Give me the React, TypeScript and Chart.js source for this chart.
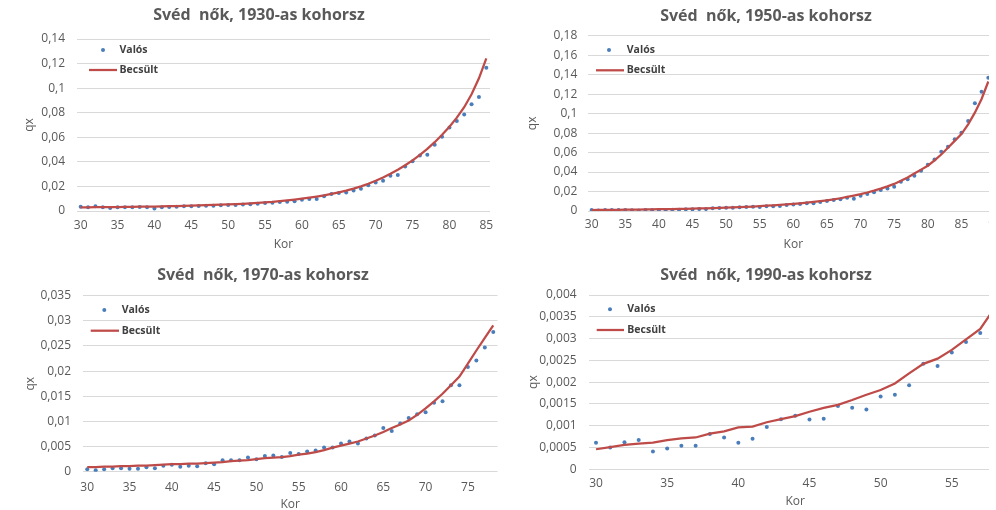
import React, { useEffect, useRef } from 'react';
import { Chart, registerables } from 'chart.js';

Chart.register(...registerables);

// ---------- data ----------
const ages1 = [30,31,32,33,34,35,36,37,38,39,40,41,42,43,44,45,46,47,48,49,50,51,52,53,54,55,56,57,58,59,60,61,62,63,64,65,66,67,68,69,70,71,72,73,74,75,76,77,78,79,80,81,82,83,84,85];
const valos1 = [0.0035,0.0030,0.0038,0.0030,0.0025,0.0030,0.0030,0.0030,0.0033,0.0030,
  0.0020,0.0030,0.0033,0.0035,0.0038,0.0038,0.0040,0.0043,0.0043,0.0046,
  0.0049,0.0049,0.0052,0.0054,0.0060,0.0065,0.0068,0.0073,0.0076,0.0079,
  0.0092,0.0097,0.0098,0.0120,0.0139,0.0147,0.0151,0.0167,0.0181,0.0209,
  0.0231,0.0246,0.0286,0.0294,0.0362,0.0404,0.0451,0.0458,0.0540,0.0604,
  0.0680,0.0733,0.0786,0.0869,0.0928,0.1167];
const becsult1 = [0.0030,0.0030,0.0031,0.0031,0.0032,0.0032,0.0033,0.0034,0.0035,0.0035,
  0.0036,0.0037,0.0039,0.0040,0.0042,0.0043,0.0045,0.0047,0.0049,0.0051,
  0.0053,0.0056,0.0059,0.0062,0.0066,0.0070,0.0074,0.0080,0.0086,0.0093,
  0.0100,0.0108,0.0117,0.0127,0.0139,0.0152,0.0166,0.0182,0.0200,0.0222,
  0.0246,0.0273,0.0303,0.0336,0.0372,0.0412,0.0457,0.0506,0.0560,0.0620,
  0.0686,0.0760,0.0845,0.0950,0.1080,0.1243];
const yTicks1 = [0,0.02,0.04,0.06,0.08,0.1,0.12,0.14];
const xTicks1 = [30,35,40,45,50,55,60,65,70,75,80,85];

const ages2 = [30,31,32,33,34,35,36,37,38,39,40,41,42,43,44,45,46,47,48,49,50,51,52,53,54,55,56,57,58,59,60,61,62,63,64,65,66,67,68,69,70,71,72,73,74,75,76,77,78,79,80,81,82,83,84,85,86,87,88,89,90];
const valos2 = [0.0010,0.0005,0.0010,0.0010,0.0010,0.0010,0.0008,0.0005,0.0010,0.0010,
  0.0010,0.0005,0.0014,0.0014,0.0017,0.0017,0.0020,0.0020,0.0027,0.0030,
  0.0034,0.0034,0.0038,0.0040,0.0044,0.0040,0.0048,0.0048,0.0051,0.0062,
  0.0068,0.0072,0.0079,0.0079,0.0092,0.0103,0.0113,0.0120,0.0137,0.0127,
  0.0157,0.0175,0.0192,0.0216,0.0230,0.0250,0.0300,0.0325,0.0363,0.0414,
  0.0476,0.0530,0.0609,0.0660,0.0736,0.0804,0.0924,0.1106,0.1225,0.1369,null];
const becsult2 = [0.0010,0.0011,0.0011,0.0012,0.0012,0.0013,0.0014,0.0015,0.0016,0.0017,
  0.0018,0.0019,0.0020,0.0021,0.0023,0.0024,0.0026,0.0028,0.0030,0.0032,
  0.0034,0.0037,0.0040,0.0043,0.0046,0.0050,0.0054,0.0058,0.0063,0.0068,
  0.0073,0.0079,0.0086,0.0093,0.0101,0.0110,0.0120,0.0131,0.0144,0.0158,
  0.0173,0.0190,0.0209,0.0230,0.0253,0.0278,0.0310,0.0345,0.0385,0.0425,
  0.0465,0.0520,0.0580,0.0650,0.0720,0.0790,0.0890,0.1010,0.1150,0.1330,null];
const yTicks2 = [0,0.02,0.04,0.06,0.08,0.1,0.12,0.14,0.16,0.18];
const xTicks2 = [30,35,40,45,50,55,60,65,70,75,80,85,90];

const ages3 = [30,31,32,33,34,35,36,37,38,39,40,41,42,43,44,45,46,47,48,49,50,51,52,53,54,55,56,57,58,59,60,61,62,63,64,65,66,67,68,69,70,71,72,73,74,75,76,77,78];
const valos3 = [0.0005,0.0003,0.0005,0.0007,0.0007,0.0006,0.0006,0.0009,0.0007,0.0012,
  0.0014,0.0010,0.0012,0.0011,0.0017,0.0015,0.0023,0.0023,0.0023,0.0028,
  0.0025,0.0031,0.0032,0.0029,0.0037,0.0035,0.0040,0.0042,0.0048,0.0048,
  0.0056,0.0060,0.0056,0.0066,0.0072,0.0087,0.0081,0.0096,0.0107,0.0114,
  0.0118,0.0137,0.0140,0.0172,0.0172,0.0208,0.0221,0.0247,0.0278];
const becsult3 = [0.0009,0.0009,0.0010,0.0010,0.0011,0.0011,0.0012,0.0012,0.0013,0.0014,
  0.0015,0.0015,0.0016,0.0016,0.0017,0.0018,0.0019,0.0021,0.0022,0.0023,
  0.0025,0.0027,0.0028,0.0029,0.0031,0.0034,0.0036,0.0039,0.0043,0.0048,
  0.0052,0.0056,0.0060,0.0066,0.0072,0.0079,0.0087,0.0094,0.0102,0.0113,
  0.0126,0.0140,0.0155,0.0172,0.0189,0.0215,0.0241,0.0266,0.0291];
const yTicks3 = [0,0.005,0.01,0.015,0.02,0.025,0.03,0.035];
const xTicks3 = [30,35,40,45,50,55,60,65,70,75];

const ages4 = [30,31,32,33,34,35,36,37,38,39,40,41,42,43,44,45,46,47,48,49,50,51,52,53,54,55,56,57,58];
const valos4 = [0.00061,0.00050,0.00062,0.00067,0.00041,0.00048,0.00054,0.00054,0.00081,0.00073,
  0.00061,0.00070,0.00097,0.00115,0.00123,0.00114,0.00116,0.00145,0.00141,0.00137,
  0.00167,0.00171,0.00193,0.00242,0.00237,0.00268,0.00292,0.00313,null];
const becsult4 = [0.00046,0.00051,0.00056,0.00059,0.00061,0.00067,0.00071,0.00073,0.00082,0.00087,
  0.00096,0.00098,0.00108,0.00115,0.00122,0.00132,0.00141,0.00148,0.00159,0.00171,
  0.00182,0.00197,0.00220,0.00242,0.00254,0.00274,0.00298,0.00322,0.00370];
const yTicks4 = [0,0.0005,0.001,0.0015,0.002,0.0025,0.003,0.0035,0.004];
const xTicks4 = [30,35,40,45,50,55];

const titles = [
  'Svéd  nők, 1930-as kohorsz',
  'Svéd  nők, 1950-as kohorsz',
  'Svéd  nők, 1970-as kohorsz',
  'Svéd  nők, 1990-as kohorsz',
];
const seriesNames = ['Valós', 'Becsült'];

// ---------- styles ----------
const FONT = "'Open Sans', sans-serif";
const TEXT = '#595959';
const LEGEND_TEXT = '#404040';
const GRID = '#D9D9D9';
const BLUE = '#4A7EBB';
const RED = '#BE4B48';

const insideLegend = {
  id: 'insideLegend',
  afterDraw(chart: any, _args: any, opts: any) {
    const ctx = chart.ctx;
    ctx.save();
    ctx.font = `bold 10.5px ${FONT}`;
    ctx.textBaseline = 'middle';
    ctx.textAlign = 'left';
    chart.data.datasets.forEach((ds: any, i: number) => {
      const y = opts.rows[i];
      if (ds.showLine === false) {
        ctx.beginPath();
        ctx.arc(opts.dotX, y, ds.pointRadius, 0, Math.PI * 2);
        ctx.fillStyle = ds.pointBackgroundColor;
        ctx.fill();
      } else {
        ctx.beginPath();
        ctx.moveTo(opts.lineX0, y);
        ctx.lineTo(opts.lineX1, y);
        ctx.strokeStyle = ds.borderColor;
        ctx.lineWidth = ds.borderWidth;
        ctx.stroke();
      }
      ctx.fillStyle = LEGEND_TEXT;
      ctx.fillText(ds.label, opts.textX, y);
    });
    ctx.restore();
  },
};

type Geo = {
  w: number; h: number; left: number; top: number;
  padL: number; padR: number; yAxisW: number; xAxisH: number;
  titleTop: number; titleBottom: number; qxPad: number;
  yTickPad: number; xTickPad: number; korPad: number;
  legend: { dotX: number; textX: number; lineX0: number; lineX1: number; rows: number[] };
};

function Panel(props: {
  labels: number[]; valos: (number | null)[]; becsult: (number | null)[];
  yTicks: number[]; xTicks: number[]; title: string; geo: Geo;
}) {
  const ref = useRef<HTMLCanvasElement>(null);
  const { labels, valos, becsult, yTicks, xTicks, title, geo } = props;
  useEffect(() => {
    if (!ref.current) return;
    const chart = new Chart(ref.current, {
      type: 'line',
      data: {
        labels,
        datasets: [
          {
            label: seriesNames[0],
            data: valos,
            showLine: false,
            pointRadius: 2,
            pointHoverRadius: 2,
            pointBorderWidth: 0,
            pointBackgroundColor: BLUE,
            borderColor: BLUE,
            order: 1,
          } as any,
          {
            label: seriesNames[1],
            data: becsult,
            borderColor: RED,
            borderWidth: 2.25,
            pointRadius: 0,
            tension: 0,
            fill: false,
            order: 0,
          },
        ],
      },
      options: {
        responsive: false,
        animation: false,
        events: [],
        layout: { padding: { left: geo.padL, right: geo.padR, top: 0, bottom: 0 } },
        plugins: {
          legend: { display: false },
          tooltip: { enabled: false },
          title: {
            display: true,
            text: title,
            color: TEXT,
            font: { family: FONT, size: 16, weight: 'bold', lineHeight: 1.2 },
            padding: { top: geo.titleTop, bottom: geo.titleBottom },
          },
          insideLegend: geo.legend,
        } as any,
        scales: {
          x: {
            type: 'category',
            offset: true,
            grid: { display: false, drawTicks: false },
            border: { display: false },
            ticks: {
              autoSkip: false,
              maxRotation: 0,
              minRotation: 0,
              padding: geo.xTickPad,
              color: TEXT,
              font: { family: FONT, size: 12 },
              callback: function (this: any, value: any) {
                const lab = Number(this.getLabelForValue(value));
                return xTicks.includes(lab) ? String(lab) : '';
              },
            },
            title: {
              display: true,
              text: 'Kor',
              color: TEXT,
              font: { family: FONT, size: 12, lineHeight: 1.2 },
              padding: { top: 0, bottom: geo.korPad },
            },
            afterFit: (scale: any) => { scale.height = geo.xAxisH; },
          },
          y: {
            min: yTicks[0],
            max: yTicks[yTicks.length - 1],
            grid: { color: GRID, lineWidth: 1, drawTicks: false },
            border: { display: false },
            afterBuildTicks: (scale: any) => { scale.ticks = yTicks.map((v) => ({ value: v })); },
            ticks: {
              padding: geo.yTickPad,
              color: TEXT,
              font: { family: FONT, size: 12 },
              callback: (v: any) => String(v).replace('.', ','),
            },
            title: {
              display: true,
              text: 'qx',
              color: TEXT,
              font: { family: FONT, size: 12, lineHeight: 1.2 },
              padding: { top: geo.qxPad, bottom: 0 },
            },
            afterFit: (scale: any) => { scale.width = geo.yAxisW; },
          },
        },
      },
      plugins: [insideLegend],
    });
    return () => chart.destroy();
  }, []);
  return (
    <canvas
      ref={ref}
      width={geo.w}
      height={geo.h}
      style={{ position: 'absolute', left: geo.left, top: geo.top, width: geo.w, height: geo.h }}
    />
  );
}

const geo1: Geo = {
  w: 518, h: 258, left: 0, top: 0, padL: 28, padR: 28, yAxisW: 49, xAxisH: 47,
  titleTop: 5.4, titleBottom: 14.4, qxPad: -5.2, yTickPad: 12, xTickPad: 7.3, korPad: 5.8,
  legend: { dotX: 103, textX: 119.5, lineX0: 89, lineX1: 117, rows: [50, 70] },
};
const geo2: Geo = {
  w: 540, h: 258, left: 0, top: 0, padL: 33.6, padR: 41.6, yAxisW: 54.7, xAxisH: 47,
  titleTop: 6.7, titleBottom: 9.8, qxPad: -7.8, yTickPad: 11, xTickPad: 6.8, korPad: 5.8,
  legend: { dotX: 109, textX: 126.8, lineX0: 96, lineX1: 124, rows: [50, 70.3] },
};
const geo3: Geo = {
  w: 518, h: 250, left: 0, top: 260, padL: 28.5, padR: 20.5, yAxisW: 54.5, xAxisH: 38.3,
  titleTop: 6.2, titleBottom: 10.3, qxPad: -4.7, yTickPad: 12, xTickPad: 8.8, korPad: -1.9,
  legend: { dotX: 104.3, textX: 121.7, lineX0: 90.7, lineX1: 119, rows: [50, 70.7] },
};
const geo4: Geo = {
  w: 540, h: 250, left: 0, top: 260, padL: 30.4, padR: 38.4, yAxisW: 58.5, xAxisH: 40.7,
  titleTop: 5.7, titleBottom: 10.1, qxPad: -3.6, yTickPad: 12.3, xTickPad: 7.5, korPad: 0.8,
  legend: { dotX: 110, textX: 127.3, lineX0: 96.7, lineX1: 124, rows: [49.3, 70] },
};

export default function App() {
  return (
    <div style={{ position: 'absolute', left: 0, top: 0, width: 996, height: 510, overflow: 'hidden', background: '#fff' }}>
      <Panel labels={ages1} valos={valos1} becsult={becsult1} yTicks={yTicks1} xTicks={xTicks1} title={titles[0]} geo={geo1} />
      <Panel labels={ages3} valos={valos3} becsult={becsult3} yTicks={yTicks3} xTicks={xTicks3} title={titles[2]} geo={geo3} />
      <div style={{ position: 'absolute', left: 500, top: 0, width: 489, height: 510, overflow: 'hidden' }}>
        <Panel labels={ages2} valos={valos2} becsult={becsult2} yTicks={yTicks2} xTicks={xTicks2} title={titles[1]} geo={geo2} />
        <Panel labels={ages4} valos={valos4} becsult={becsult4} yTicks={yTicks4} xTicks={xTicks4} title={titles[3]} geo={geo4} />
      </div>
    </div>
  );
}
